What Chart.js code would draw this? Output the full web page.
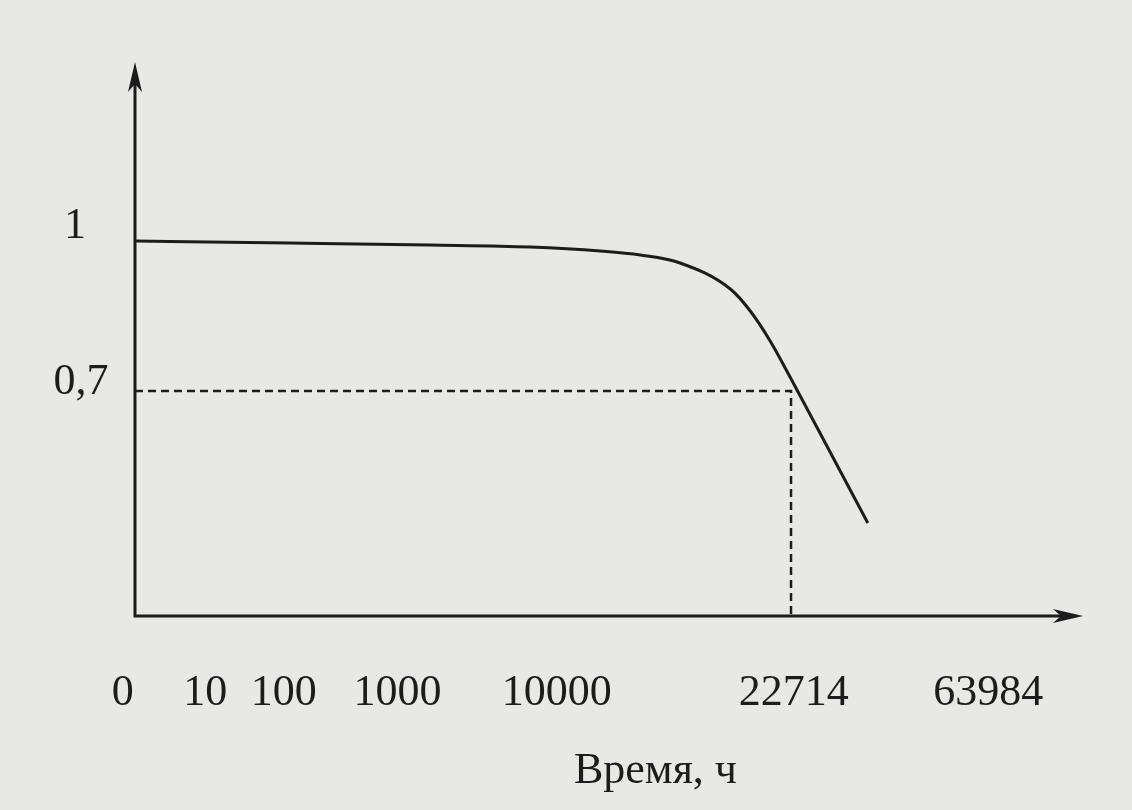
<!DOCTYPE html>
<html>
<head>
<meta charset="utf-8">
<script src="https://cdn.jsdelivr.net/npm/chart.js@4/dist/chart.umd.min.js"></script>
<style>
    html, body { margin: 0; padding: 0; background: #e8e8e6; }
    #wrap { width: 1132px; height: 810px; }
</style>
</head>
<body>
<div id="wrap"><canvas id="chart"></canvas></div>
<script>
// x is the position along the drawn axis (0 = y axis, 100 = arrow tip)
const curveX = [0, 16.4, 31.1, 41.7, 49.1, 53.3, 57.5, 62.8, 64.9, 67.0, 69.1, 73.6, 77.3];
const curveY = [1.0, 0.996, 0.992, 0.988, 0.98, 0.972, 0.956, 0.904, 0.86, 0.80, 0.728, 0.568, 0.436];

const xTickPos = [-1.3, 7.4, 15.7, 27.7, 44.5, 69.5, 90.0];
const xTickLabels = ["0", "10", "100", "1000", "10000", "22714", "63984"];

const yTickVals = [1, 0.7];
const yTickLabels = ["1", "0,7"];

const markT = 69.2;   // dashed drop line position
const markP = 0.7;

const yMin = 0.25;
const yMax = 1.358;
const axisTitle = "Время, ч";

const ink = "#1c1c1c";
const font = "44px 'Liberation Serif', 'DejaVu Serif', serif";

const axesPlugin = {
    id: "axesPlugin",
    afterDraw(chart) {
        const ctx = chart.ctx;
        const xs = chart.scales.x;
        const ys = chart.scales.y;
        const x0 = xs.getPixelForValue(0);
        const x1 = xs.getPixelForValue(100);
        const y0 = ys.getPixelForValue(yMin);
        const y1 = ys.getPixelForValue(yMax);

        ctx.save();
        ctx.strokeStyle = ink;
        ctx.fillStyle = ink;
        ctx.lineWidth = 3;

        // axis lines
        ctx.beginPath();
        ctx.moveTo(x0, y1 + 10);
        ctx.lineTo(x0, y0);
        ctx.lineTo(x1 - 10, y0);
        ctx.stroke();

        // arrow heads
        ctx.beginPath();
        ctx.moveTo(x0, y1);
        ctx.lineTo(x0 - 7, y1 + 30);
        ctx.lineTo(x0, y1 + 22);
        ctx.lineTo(x0 + 7, y1 + 30);
        ctx.closePath();
        ctx.fill();

        ctx.beginPath();
        ctx.moveTo(x1, y0);
        ctx.lineTo(x1 - 30, y0 - 7);
        ctx.lineTo(x1 - 22, y0);
        ctx.lineTo(x1 - 30, y0 + 7);
        ctx.closePath();
        ctx.fill();

        // tick labels
        ctx.font = font;
        ctx.textAlign = "center";
        ctx.textBaseline = "alphabetic";
        xTickPos.forEach((p, i) => {
            ctx.fillText(xTickLabels[i], xs.getPixelForValue(p), y0 + 89);
        });
        ctx.fillText(axisTitle, xs.getPixelForValue(54.9), y0 + 167);

        const yLabelX = [75, 81];
        yTickVals.forEach((v, i) => {
            ctx.fillText(yTickLabels[i], yLabelX[i], ys.getPixelForValue(v) + (i === 0 ? -3 : 3));
        });
        ctx.restore();
    }
};

new Chart(document.getElementById("chart"), {
    type: "line",
    data: {
        datasets: [
            {
                data: curveX.map((x, i) => ({ x: x, y: curveY[i] })),
                borderColor: ink,
                borderWidth: 3,
                pointRadius: 0,
                cubicInterpolationMode: "monotone",
                fill: false
            },
            {
                data: [{ x: 0, y: markP }, { x: markT, y: markP }, { x: markT, y: yMin }],
                borderColor: ink,
                borderWidth: 2.5,
                borderDash: [8, 5],
                pointRadius: 0,
                tension: 0,
                fill: false
            }
        ]
    },
    options: {
        responsive: true,
        maintainAspectRatio: false,
        animation: false,
        layout: { padding: { left: 135, right: 49, top: 62, bottom: 194 } },
        scales: {
            x: { type: "linear", min: 0, max: 100, display: false },
            y: { type: "linear", min: yMin, max: yMax, display: false }
        },
        plugins: {
            legend: { display: false },
            tooltip: { enabled: false }
        }
    },
    plugins: [axesPlugin]
});
</script>
</body>
</html>
